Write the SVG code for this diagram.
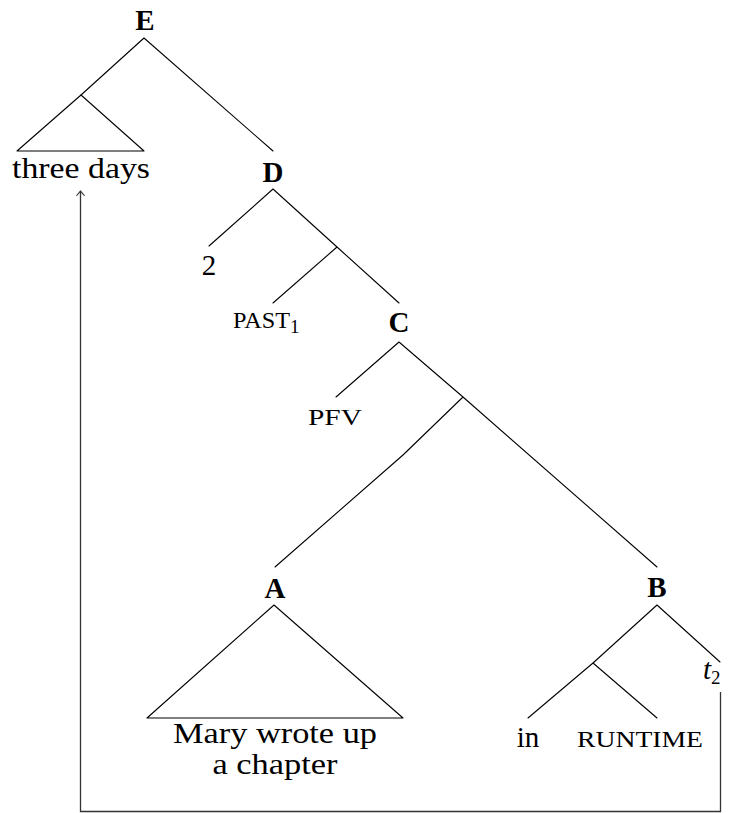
<svg xmlns="http://www.w3.org/2000/svg" width="730" height="813" viewBox="0 0 730 813">
<style>
.edge{stroke:#000;stroke-width:1.1;fill:none;stroke-linecap:round;stroke-linejoin:round}
.mv{stroke:#333;stroke-width:1.3;fill:none}
.lbl{font-family:"Liberation Serif","Times New Roman",serif;font-size:29px;fill:#000;text-anchor:middle}
.b{font-weight:bold}
.sc{font-size:23px}
</style>
<defs>
<marker id="to" markerUnits="userSpaceOnUse" markerWidth="12" markerHeight="12" viewBox="-6 -6 12 12" refX="0" refY="0" orient="auto">
<path d="M-4.5,-3.8 Q-1,-0.8 0,0 Q-1,0.8 -4.5,3.8" fill="none" stroke="#333" stroke-width="1.1" stroke-linecap="round"/>
</marker>
</defs>
<rect width="730" height="813" fill="#fff"/>
<g id="connectors">
<path class="edge" d="M144,38 L81,95 M144,38 L273,151"/>
<path class="edge" d="M273,189 L209,246 M273,189 L337,247 M337,247 L273,303 M337,247 L399,303"/>
<path class="edge" d="M399,342 L336,397 M399,342 L463,397 M463,397 L403,455 L275,567 M463,397 L657,567"/>
<path class="edge" d="M657,605 L593,663 M657,605 L720,662 M593,663 L528,718 M593,663 L657,718"/>
<path class="mv" d="M720.5,692 V811.5 H80.5 V191" marker-end="url(#to)"/>
</g>
<g id="node-E"><text class="lbl b" x="145" y="30">E</text></g>
<g id="node-threedays">
<path class="edge" d="M81,95 L17,151 L144,151 Z"/>
<text class="lbl" x="81" y="178" textLength="138" lengthAdjust="spacingAndGlyphs">three days</text>
</g>
<g id="node-D"><text class="lbl b" x="273" y="182">D</text></g>
<g id="node-2"><text class="lbl" x="209" y="275">2</text></g>
<g id="node-PAST"><text class="lbl" x="262" y="328" text-anchor="start" style="text-anchor:start"><tspan class="sc" x="233" textLength="57" lengthAdjust="spacingAndGlyphs">PAST</tspan><tspan font-size="19" dy="5">1</tspan></text></g>
<g id="node-C"><text class="lbl b" x="399" y="332">C</text></g>
<g id="node-PFV"><text class="lbl sc" x="335" y="425" textLength="54" lengthAdjust="spacingAndGlyphs">PFV</text></g>
<g id="node-A"><text class="lbl b" x="275" y="598">A</text></g>
<g id="node-Mary">
<path class="edge" d="M274,605 L147,718 L403,718 Z"/>
<text class="lbl" x="275" y="743" textLength="204" lengthAdjust="spacingAndGlyphs">Mary wrote up</text>
<text class="lbl" x="275" y="774" textLength="125" lengthAdjust="spacingAndGlyphs">a chapter</text>
</g>
<g id="node-B"><text class="lbl b" x="657" y="597">B</text></g>
<g id="node-in"><text class="lbl" x="528" y="747">in</text></g>
<g id="node-RUNTIME"><text class="lbl sc" x="640" y="747" textLength="126" lengthAdjust="spacingAndGlyphs">RUNTIME</text></g>
<g id="node-t2"><text class="lbl" x="703" y="679" style="text-anchor:start"><tspan font-style="italic">t</tspan><tspan font-size="19" dy="5">2</tspan></text></g>
</svg>
